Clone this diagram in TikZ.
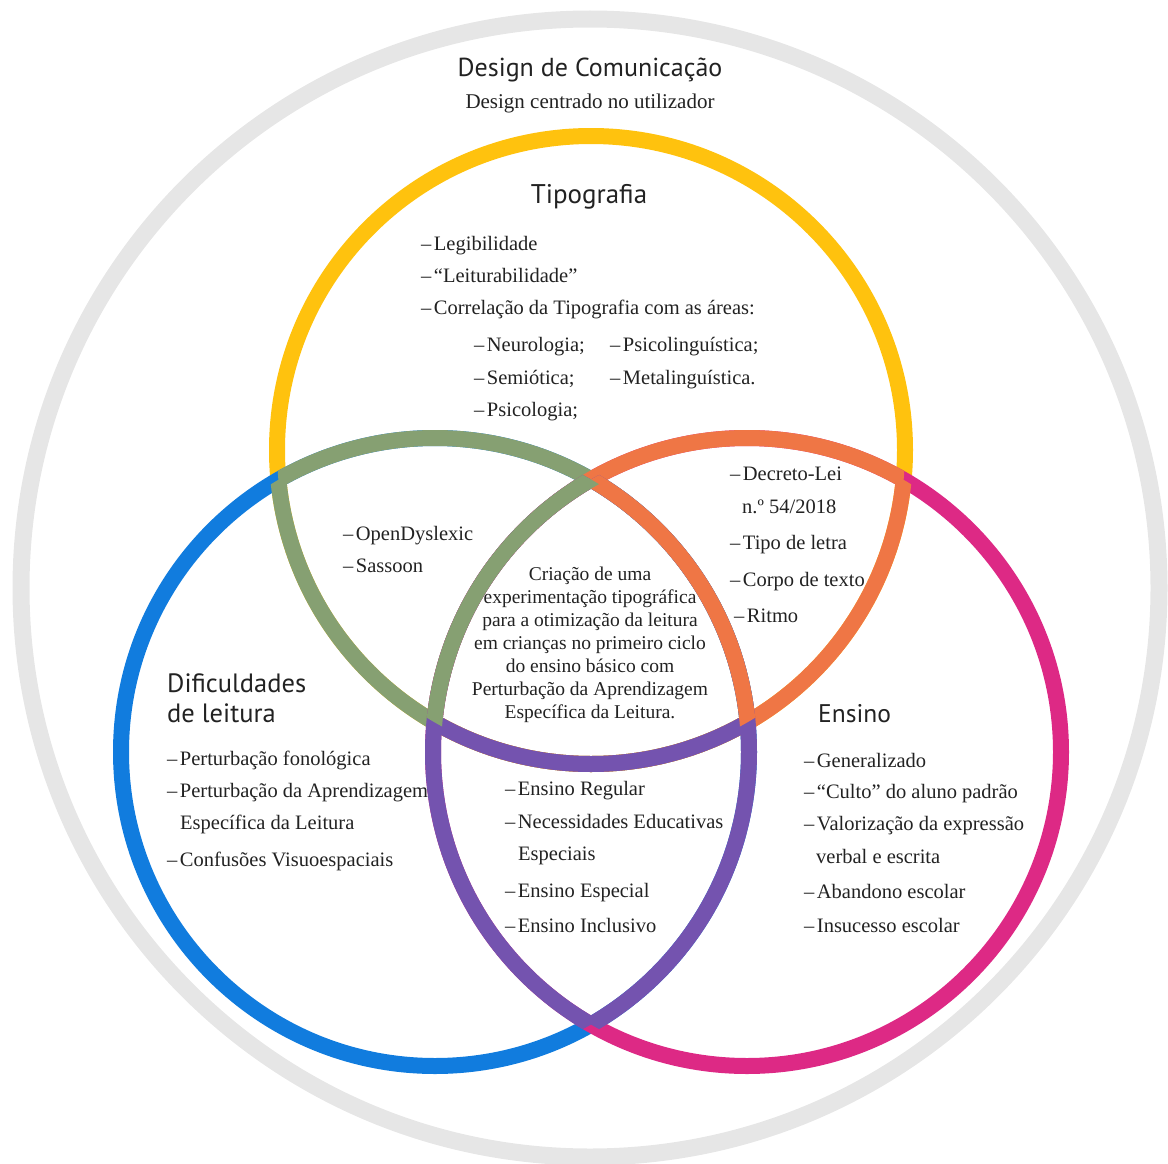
\documentclass[tikz,border=0pt]{standalone}
\usepackage{fontspec}
\setmainfont{Liberation Serif}
\newfontfamily\headfont{PT Sans}
\definecolor{cyel}{HTML}{FFC20E}
\definecolor{cblu}{HTML}{117CDE}
\definecolor{cmag}{HTML}{DD2985}
\definecolor{cgrn}{HTML}{86A072}
\definecolor{corg}{HTML}{EF7645}
\definecolor{cpur}{HTML}{7453AF}
\definecolor{cgry}{HTML}{E6E6E6}
\definecolor{ctxt}{HTML}{222222}
\newcommand\vitem[1]{\textendash\hspace{2.5pt}#1}
\begin{document}
\begin{tikzpicture}[x=1pt,y=-1pt,
  ring/.style={line width=16pt},
  body/.style={font=\fontsize{20.5}{24}\selectfont, text=ctxt, inner sep=0pt, anchor=base west},
  ctr/.style={font=\fontsize{19.5}{23}\selectfont, text=ctxt, inner sep=0pt, anchor=base},
  head/.style={font=\headfont\fontsize{26.5}{30}\selectfont, text=ctxt, inner sep=0pt, anchor=base west},
  sub/.style={font=\fontsize{21}{24}\selectfont, text=ctxt, inner sep=0pt, anchor=base}]
\useasboundingbox (0,0) rectangle (1168,1164);
\def\Ypath{(591,450) circle[radius=314pt]}
\def\Bpath{(435,752) circle[radius=314pt]}
\def\Mpath{(747,752) circle[radius=314pt]}
% outer ring
\draw[cgry, line width=17pt] (590,588) circle[radius=569pt];
% base circles
\draw[ring, cyel] \Ypath;
\draw[ring, cblu] \Bpath;
\draw[ring, cmag] \Mpath;
% pairwise overlaps
\begin{scope}\clip \Bpath; \draw[ring, cgrn] \Ypath; \end{scope}
\begin{scope}\clip \Ypath; \draw[ring, cgrn] \Bpath; \end{scope}
\begin{scope}\clip \Mpath; \draw[ring, corg] \Ypath; \end{scope}
\begin{scope}\clip \Ypath; \draw[ring, corg] \Mpath; \end{scope}
\begin{scope}\clip \Mpath; \draw[ring, cpur] \Bpath; \end{scope}
\begin{scope}\clip \Bpath; \draw[ring, cpur] \Mpath; \end{scope}
% triple region
\begin{scope}\clip \Bpath; \clip \Mpath; \draw[ring, cpur] \Ypath; \end{scope}
\begin{scope}\clip \Ypath; \clip \Mpath; \draw[ring, corg] \Bpath; \end{scope}
\begin{scope}\clip \Ypath; \clip \Bpath; \draw[ring, cgrn] \Mpath; \end{scope}

% titles
\node[head, anchor=base, font=\headfont\fontsize{26}{30}\selectfont] (title) at (590,77) {Design de Comunicação};
\node[sub] (subtitle) at (590,108) {Design centrado no utilizador};
\node[head, anchor=base, font=\headfont\fontsize{27}{30}\selectfont] (tipo) at (589,203) {Tipografia};

% Tipografia list
\node[body] (t1) at (421,250) {\vitem{Legibilidade}};
\node[body] (t2) at (421,282) {\vitem{“Leiturabilidade”}};
\node[body] (t3) at (421,314) {\vitem{Correlação da Tipografia com as áreas:}};
\node[body] (t4) at (474,351) {\vitem{Neurologia;}};
\node[body] (t5) at (474,384) {\vitem{Semiótica;}};
\node[body] (t6) at (474,416) {\vitem{Psicologia;}};
\node[body] (t7) at (610,351) {\vitem{Psicolinguística;}};
\node[body] (t8) at (610,384) {\vitem{Metalinguística.}};

% left lens
\node[body] (l1) at (343,540) {\vitem{OpenDyslexic}};
\node[body] (l2) at (343,572) {\vitem{Sassoon}};

% right lens
\node[body] (r1) at (730,480) {\vitem{Decreto-Lei}};
\node[body] (r2) at (742,513) {n.º 54/2018};
\node[body] (r3) at (730,549) {\vitem{Tipo de letra}};
\node[body] (r4) at (730,586) {\vitem{Corpo de texto}};
\node[body] (r5) at (734,622) {\vitem{Ritmo}};

% center
\node[ctr] (c1) at (590,580) {Criação de uma};
\node[ctr] (c2) at (590,603) {experimentação tipográfica};
\node[ctr] (c3) at (590,626) {para a otimização da leitura};
\node[ctr] (c4) at (590,649) {em crianças no primeiro ciclo};
\node[ctr] (c5) at (590,672) {do ensino básico com};
\node[ctr] (c6) at (590,695) {Perturbação da Aprendizagem};
\node[ctr] (c7) at (590,718) {Específica da Leitura.};

% Dificuldades
\node[head] (dif1) at (167,692) {Dificuldades};
\node[head] (dif2) at (167,722) {de leitura};
\node[body] (d1) at (167,765) {\vitem{Perturbação fonológica}};
\node[body] (d2) at (167,797) {\vitem{Perturbação da Aprendizagem}};
\node[body] (d3) at (180,829) {Específica da Leitura};
\node[body] (d4) at (167,866) {\vitem{Confusões Visuoespaciais}};

% bottom lens
\node[body] (b1) at (505,795) {\vitem{Ensino Regular}};
\node[body] (b2) at (505,828) {\vitem{Necessidades Educativas}};
\node[body] (b3) at (518,860) {Especiais};
\node[body] (b4) at (505,897) {\vitem{Ensino Especial}};
\node[body] (b5) at (505,932) {\vitem{Ensino Inclusivo}};

% Ensino
\node[head, font=\headfont\fontsize{25.5}{30}\selectfont] (ens) at (818,722) {Ensino};
\node[body] (e1) at (804,767) {\vitem{Generalizado}};
\node[body] (e2) at (804,798) {\vitem{“Culto” do aluno padrão}};
\node[body] (e3) at (804,830) {\vitem{Valorização da expressão}};
\node[body] (e4) at (816,863) {verbal e escrita};
\node[body] (e5) at (804,898) {\vitem{Abandono escolar}};
\node[body] (e6) at (804,932) {\vitem{Insucesso escolar}};
\end{tikzpicture}
\end{document}
